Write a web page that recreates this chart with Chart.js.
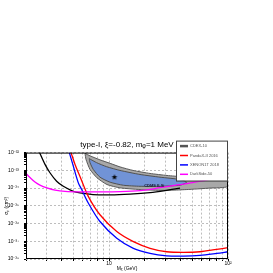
<!DOCTYPE html>
<html>
<head>
<meta charset="utf-8">
<script src="https://cdn.jsdelivr.net/npm/chart.js@4"></script>
<style>
  body { margin: 0; background: #fff; }
  canvas { display: block; }
</style>
</head>
<body>
<canvas id="myChart" width="273" height="273"></canvas>
<script>
// exclusion curves: dark matter mass (GeV) vs cross section (cm^2)
const cdexMass = [2.60, 2.89, 3.18, 3.62, 4.12, 5.00, 5.69, 7.32, 10.2, 15.0, 22.1, 29.5, 39.5];
const cdexSigma = [1.0e-32, 2.16e-33, 7.31e-34, 2.43e-34, 1.26e-34, 6.58e-35, 5.33e-35, 4.28e-35, 4.11e-35, 4.56e-35, 5.55e-35, 7.21e-35, 1.0e-34];

const pandaxMass = [4.78, 5.17, 5.69, 6.68, 8.38, 11.6, 16.0, 22.1, 30.5, 42.1, 58.1, 80.3, 100];
const pandaxSigma = [1.0e-32, 2.16e-33, 4.50e-34, 3.42e-35, 3.12e-36, 3.51e-37, 9.48e-38, 4.00e-38, 2.56e-38, 2.37e-38, 2.56e-38, 3.51e-38, 4.33e-38];

const xenonMass = [4.63, 5.00, 5.51, 5.88, 6.68, 8.38, 11.6, 16.0, 22.1, 30.5, 42.1, 58.1, 80.3, 100];
const xenonSigma = [1.0e-32, 1.73e-33, 1.97e-34, 8.22e-35, 1.44e-35, 1.30e-36, 1.48e-37, 4.00e-38, 2.08e-38, 1.52e-38, 1.46e-38, 1.60e-38, 2.08e-38, 2.56e-38];

const darksideMass = [2.0, 2.16, 2.38, 2.62, 3.00, 3.51, 4.26, 5.69, 8.38, 12.35, 18.2, 24.3, 32.5, 45.2, 73.3, 100];
const darksideSigma = [6.67e-34, 3.95e-34, 2.19e-34, 1.48e-34, 1.03e-34, 7.69e-35, 6.49e-35, 6.08e-35, 6.08e-35, 6.32e-35, 7.21e-35, 9.37e-35, 1.30e-34, 1.80e-34, 3.24e-34, 4.50e-34];

// CDMS II-Si signal regions (closed contours)
const cdms90Mass = [6.27, 6.91, 8.38, 10.2, 12.35, 15.9, 22.1, 30.7, 41.8, 58.1, 100, 100, 70.6, 47.9, 35.8, 26.8, 18.2, 12.35, 9.60, 7.91, 6.91, 6.39, 6.27];
const cdms90Sigma = [9.12e-33, 6.58e-33, 3.90e-33, 2.47e-33, 1.56e-33, 9.87e-34, 6.67e-34, 5.13e-34, 4.33e-34, 3.95e-34, 3.95e-34, 1.22e-34, 1.0e-34, 8.43e-35, 7.69e-35, 7.40e-35, 8.22e-35, 1.03e-34, 1.58e-34, 3.80e-34, 1.12e-33, 4.16e-33, 9.12e-33];

const cdms68Mass = [6.81, 7.86, 9.54, 12.35, 18.2, 26.8, 39.5, 44.9, 39.5, 26.8, 18.2, 13.2, 10.2, 8.38, 7.36, 6.91, 6.81];
const cdms68Sigma = [4.56e-33, 2.70e-33, 1.60e-33, 9.87e-34, 5.85e-34, 4.11e-34, 3.04e-34, 2.14e-34, 1.44e-34, 1.26e-34, 1.26e-34, 1.44e-34, 2.14e-34, 4.11e-34, 1.12e-33, 2.70e-33, 4.56e-33];

const bestFitMass = [11.1];
const bestFitSigma = [4.11e-34];

const legendLabels = ["CDEX-10", "PandaX-II 2016", "XENON1T 2018", "DarkSide-50"];
const legendColors = ["#555555", "#ff0000", "#0000ff", "#ff00ff"];
const cdmsLabel = "CDMS II-Si";

const xTicks = [2, 3, 4, 5, 6, 7, 8, 9, 10, 20, 30, 40, 50, 60, 70, 80, 90, 100];
const xTickLabels = { 10: "10", 100: "10\u00b2" };
const yDecades = [-38, -37, -36, -35, -34, -33, -32];

const sup = { "0": "\u2070", "1": "\u00b9", "2": "\u00b2", "3": "\u00b3", "4": "\u2074", "5": "\u2075", "6": "\u2076", "7": "\u2077", "8": "\u2078", "9": "\u2079", "-": "\u207b" };
const toSup = s => String(s).split("").map(c => sup[c]).join("");

const pts = (xs, ys) => xs.map((x, i) => ({ x: x, y: ys[i] }));

function makeStar(r) {
    const c = document.createElement("canvas");
    c.width = c.height = r * 2 + 2;
    const g = c.getContext("2d");
    g.beginPath();
    for (let i = 0; i < 10; i++) {
        const rad = i % 2 ? r * 0.42 : r;
        const a = -Math.PI / 2 + i * Math.PI / 5;
        g.lineTo(r + 1 + rad * Math.cos(a), r + 1 + rad * Math.sin(a));
    }
    g.closePath();
    g.fillStyle = "#000";
    g.fill();
    return c;
}

const isDecade = v => Math.abs(Math.log10(v) - Math.round(Math.log10(v))) < 1e-6;

Chart.defaults.font.family = "'Liberation Sans', Arial, sans-serif";
Chart.defaults.color = "#000";

const extras = {
    id: "extras",
    afterDatasetsDraw(chart) {
        const { ctx, chartArea: a, scales } = chart;
        ctx.save();
        ctx.strokeStyle = "#000";
        ctx.lineWidth = 1;
        ctx.strokeRect(a.left + 0.5, a.top + 0.5, a.right - a.left - 1, a.bottom - a.top - 1);
        ctx.font = "bold 4px 'Liberation Sans', Arial, sans-serif";
        ctx.fillStyle = "#1a1a33";
        ctx.textAlign = "center";
        ctx.textBaseline = "middle";
        ctx.fillText(cdmsLabel, scales.x.getPixelForValue(24), scales.y.getPixelForValue(1.39e-34));
        ctx.restore();
    },
    afterDraw(chart) {
        const { ctx, chartArea: a } = chart;
        const left = a.right - 52, top = a.top - 12, w = 51, h = 40;
        ctx.save();
        ctx.fillStyle = "#fff";
        ctx.fillRect(left, top, w, h);
        ctx.strokeStyle = "#444";
        ctx.lineWidth = 1;
        ctx.strokeRect(left + 0.5, top + 0.5, w, h);
        ctx.font = "4px 'Liberation Sans', Arial, sans-serif";
        ctx.textBaseline = "middle";
        ctx.textAlign = "left";
        legendLabels.forEach((lab, i) => {
            const y = top + 5.5 + i * 9.4;
            ctx.strokeStyle = legendColors[i];
            ctx.lineWidth = i === 0 ? 2.5 : 1.5;
            ctx.beginPath();
            ctx.moveTo(left + 4, y);
            ctx.lineTo(left + 12, y);
            ctx.stroke();
            ctx.fillStyle = "#555";
            ctx.fillText(lab, left + 14, y);
        });
        ctx.restore();
    }
};

const lineDs = (label, xs, ys, color, width) => ({
    label: label,
    data: pts(xs, ys),
    borderColor: color,
    borderWidth: width,
    pointRadius: 0,
    tension: 0.3,
    fill: false
});

const data = {
    datasets: [
        {
            label: "best fit",
            data: pts(bestFitMass, bestFitSigma),
            showLine: false,
            pointStyle: makeStar(3),
            pointRadius: 3
        },
        lineDs(legendLabels[3], darksideMass, darksideSigma, "#ff00ff", 1.3),
        lineDs(legendLabels[1], pandaxMass, pandaxSigma, "#ff0000", 1.3),
        lineDs(legendLabels[2], xenonMass, xenonSigma, "#0000ff", 1.3),
        lineDs(legendLabels[0], cdexMass, cdexSigma, "#000000", 1.3),
        {
            label: "CDMS 68%",
            data: pts(cdms68Mass, cdms68Sigma),
            borderColor: "#505050",
            borderWidth: 1,
            backgroundColor: "#7193d6",
            pointRadius: 0,
            tension: 0.2,
            fill: "shape"
        },
        {
            label: "CDMS 90%",
            data: pts(cdms90Mass, cdms90Sigma),
            borderColor: "#5a5a5a",
            borderWidth: 1,
            backgroundColor: "#a8a8a8",
            pointRadius: 0,
            tension: 0.2,
            fill: "shape"
        }
    ]
};

const config = {
    type: "line",
    data: data,
    options: {
        responsive: false,
        animation: false,
        layout: { padding: { top: 140, right: 45, left: 0, bottom: 0 } },
        plugins: {
            legend: { display: false },
            tooltip: { enabled: false },
            title: {
                display: true,
                fullSize: false,
                text: "type-I, \u03be=-0.82, m\u1d69=1 MeV",
                font: { size: 8, weight: "normal" },
                color: "#000",
                padding: { top: 0, bottom: 3 }
            }
        },
        scales: {
            x: {
                type: "logarithmic",
                min: 2,
                max: 100,
                afterBuildTicks: axis => { axis.ticks = xTicks.map(v => ({ value: v })); },
                afterFit: axis => { axis.height = 14; },
                ticks: {
                    autoSkip: false,
                    maxRotation: 0,
                    padding: 0,
                    font: { size: 5 },
                    callback: v => xTickLabels[v] || ""
                },
                grid: { color: "#bdbdbd", tickColor: "#000", tickLength: 2 },
                border: { display: false, dash: [2, 2] },
                title: { display: true, text: "M\u1d6a (GeV)", font: { size: 5 }, padding: { top: 0, bottom: 1 } }
            },
            y: {
                type: "logarithmic",
                min: 1e-38,
                max: 1e-32,
                afterBuildTicks: axis => {
                    const t = [];
                    yDecades.forEach(d => {
                        for (let k = 1; k <= 9; k++) {
                            const v = k * Math.pow(10, d);
                            if (v <= 1.0001e-32) t.push({ value: v });
                        }
                    });
                    axis.ticks = t;
                },
                afterFit: axis => { axis.width = 26; },
                ticks: {
                    autoSkip: false,
                    padding: 5,
                    font: { size: 5 },
                    callback: v => isDecade(v) ? "10" + toSup(Math.round(Math.log10(v))) : ""
                },
                grid: {
                    color: c => (c.tick && isDecade(c.tick.value)) ? "#bdbdbd" : "rgba(0,0,0,0)",
                    tickColor: "#000",
                    tickLength: 2
                },
                border: { display: false, dash: [2, 2] },
                title: { display: true, text: "\u03c3\u209a (cm\u00b2)", font: { size: 5 }, padding: { top: 4, bottom: 0 } }
            }
        }
    },
    plugins: [extras]
};

const myChart = new Chart(document.getElementById("myChart"), config);
</script>
</body>
</html>
